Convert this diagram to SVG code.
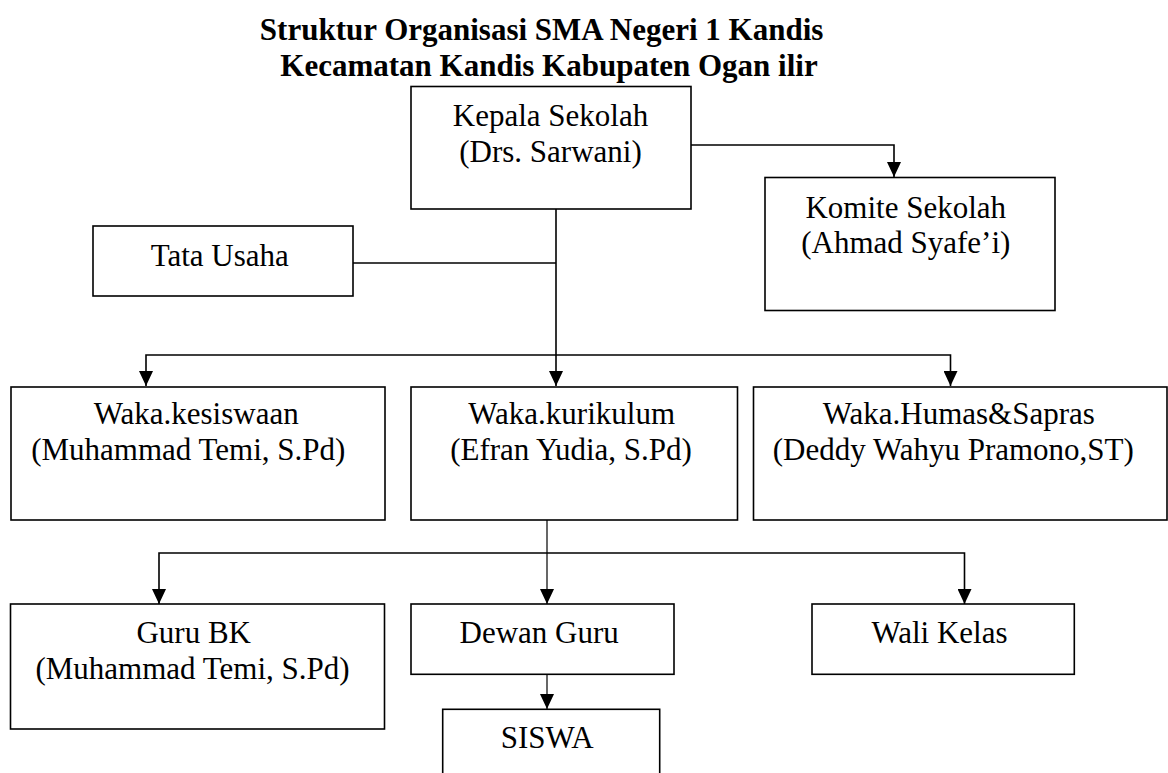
<svg xmlns="http://www.w3.org/2000/svg" width="1168" height="773" viewBox="0 0 1168 773">
<style>
.box{fill:#fff;stroke:#000;stroke-width:1.6}
.t{font-family:"Liberation Serif","Times New Roman",serif;font-size:31px;fill:#000;text-anchor:middle}
.title{font-family:"Liberation Serif","Times New Roman",serif;font-size:31px;font-weight:bold;fill:#000;text-anchor:middle}
.c{fill:none;stroke:#000;stroke-width:1.6}
.thin{stroke-width:1.2}
</style>
<defs>
<marker id="ah" viewBox="0 0 15 14" refX="15" refY="7" markerWidth="15" markerHeight="14" markerUnits="userSpaceOnUse" orient="auto">
<path d="M0,0 L15,7 L0,14 z" fill="#000"/>
</marker>
</defs>
<rect width="1168" height="773" fill="#fff"/>
<g id="title">
<text class="title" x="541.6" y="40">Struktur Organisasi SMA Negeri 1 Kandis</text>
<text class="title" x="549" y="75.6">Kecamatan Kandis Kabupaten Ogan ilir</text>
</g>
<g id="connectors">
<path class="c" d="M691,145 H894 V177" marker-end="url(#ah)"/>
<path class="c" d="M353,263 H556"/>
<path class="c" d="M556,209 V386" marker-end="url(#ah)"/>
<path class="c" d="M556,355 H146 V386" marker-end="url(#ah)"/>
<path class="c" d="M556,355 H950.5 V386" marker-end="url(#ah)"/>
<path class="c thin" d="M547,517 V604" marker-end="url(#ah)"/>
<path class="c" d="M547,553 H159 V604" marker-end="url(#ah)"/>
<path class="c" d="M547,553 H964.5 V604" marker-end="url(#ah)"/>
<path class="c thin" d="M547,674 V709" marker-end="url(#ah)"/>
</g>
<g id="kepala">
<rect class="box" x="411" y="86.5" width="280" height="122.5"/>
<text class="t" x="550.5" y="126">Kepala Sekolah</text>
<text class="t" x="550.5" y="161.7">(Drs. Sarwani)</text>
</g>
<g id="komite">
<rect class="box" x="765" y="177.5" width="290" height="133"/>
<text class="t" x="905.8" y="217.7">Komite Sekolah</text>
<text class="t" x="905.8" y="253.3">(Ahmad Syafe’i)</text>
</g>
<g id="tata-usaha">
<rect class="box" x="93" y="226" width="260" height="70"/>
<text class="t" x="219.7" y="265.7">Tata Usaha</text>
</g>
<g id="waka-kesiswaan">
<rect class="box" x="11" y="387" width="374" height="133"/>
<text class="t" x="196.2" y="424.3">Waka.kesiswaan</text>
<text class="t" x="188.3" y="460">(Muhammad Temi, S.Pd)</text>
</g>
<g id="waka-kurikulum">
<rect class="box" x="411" y="387" width="326.5" height="133"/>
<text class="t" x="571.7" y="424.3">Waka.kurikulum</text>
<text class="t" x="571" y="460">(Efran Yudia, S.Pd)</text>
</g>
<g id="waka-humas">
<rect class="box" x="753.5" y="387" width="413.5" height="133"/>
<text class="t" x="958.8" y="424.3">Waka.Humas&amp;Sapras</text>
<text class="t" x="953.3" y="460">(Deddy Wahyu Pramono,ST)</text>
</g>
<g id="guru-bk">
<rect class="box" x="10.5" y="604" width="374" height="125"/>
<text class="t" x="193.7" y="643.3">Guru BK</text>
<text class="t" x="192.5" y="679">(Muhammad Temi, S.Pd)</text>
</g>
<g id="dewan-guru">
<rect class="box" x="411" y="604" width="263" height="70.3"/>
<text class="t" x="539.2" y="643.3">Dewan Guru</text>
</g>
<g id="wali-kelas">
<rect class="box" x="812" y="604" width="262.3" height="70.3"/>
<text class="t" x="939.5" y="643.3">Wali Kelas</text>
</g>
<g id="siswa">
<rect class="box" x="442.7" y="709.3" width="217" height="90"/>
<text class="t" x="547.2" y="747.7">SISWA</text>
</g>
</svg>
